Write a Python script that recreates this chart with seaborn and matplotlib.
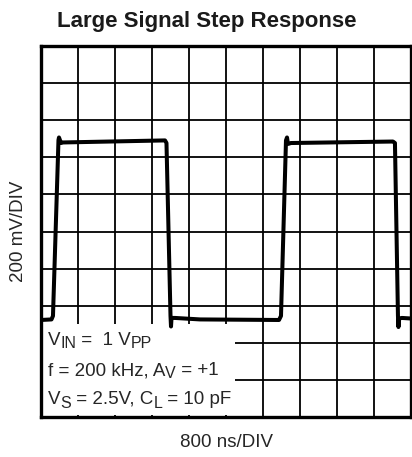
import matplotlib
matplotlib.use("Agg")
import matplotlib.pyplot as plt
from matplotlib.patches import Rectangle
from matplotlib.transforms import IdentityTransform
import numpy as np
import pandas as pd
import seaborn as sns

# Oscilloscope trace: time in ns, output voltage in mV (screen centre = 0 mV)
time_ns = [0, 227, 259, 378, 389, 432, 476, 2681, 2713, 2800, 2811, 2822, 2897,
           3438, 5146, 5189, 5297, 5319, 5340, 5405, 7610, 7653, 7718, 7729,
           7740, 7805, 8000]
vout_mv = [-477, -474, -455, 493, 507, 477, 480, 491, 477, -455, -512, -466, -466,
           -474, -477, -455, 491, 507, 472, 477, 485, 477, -455, -515,
           -469, -466, -469]

NS_PER_DIV = 800
MV_PER_DIV = 200
N_DIV = 10

title = "Large Signal Step Response"
x_label = "800 ns/DIV"
y_label = "200 mV/DIV"
# Test conditions: each line is a list of (text, is_subscript) pieces
conditions = [
    [("V", False), ("IN", True), (" =  1 V", False), ("PP", True)],
    [("f = 200 kHz, A", False), ("V", True), (" = +1", False)],
    [("V", False), ("S", True), (" = 2.5V, C", False), ("L", True), (" = 10 pF", False)],
]

sns.set_style("white")
plt.rcParams["font.family"] = ["Liberation Sans", "DejaVu Sans"]

df = pd.DataFrame({"t": time_ns, "v": vout_mv})

fig = plt.figure(figsize=(4.12, 4.57), dpi=100)
ax = fig.add_axes([41 / 412, 1 - 417 / 457, 370 / 412, 371 / 457])

sns.lineplot(data=df, x="t", y="v", ax=ax, color="black", linewidth=2.9,
             sort=False, zorder=4, solid_joinstyle="round", solid_capstyle="butt")

ax.set_xlim(0, N_DIV * NS_PER_DIV)
ax.set_ylim(-N_DIV / 2 * MV_PER_DIV, N_DIV / 2 * MV_PER_DIV)
ax.set_xticks(np.arange(0, N_DIV * NS_PER_DIV + 1, NS_PER_DIV))
ax.set_yticks(np.arange(-1000, 1001, MV_PER_DIV))
ax.tick_params(length=0, labelbottom=False, labelleft=False)
ax.set_axisbelow(True)
ax.grid(True, color="black", linewidth=1.3)
for sp in ax.spines.values():
    sp.set_visible(True)
    sp.set_color("black")
    sp.set_linewidth(2.4)

ax.set_xlabel(x_label, fontsize=13.5, labelpad=12)
ax.set_ylabel(y_label, fontsize=13.5, labelpad=10)

# White panel with the test conditions
ax.add_patch(Rectangle((0.006, 0.006), 0.518, 0.245, transform=ax.transAxes,
                       facecolor="white", edgecolor="none", zorder=1.5))

renderer = fig.canvas.get_renderer()
H = 457
baselines = [345, 375, 404]
for pieces, base in zip(conditions, baselines):
    x = 48.0
    for txt, sub in pieces:
        size = 11.5 if sub else 13.5
        y = (H - base) - (3.5 if sub else 0)
        t = fig.text(x, y, txt, transform=IdentityTransform(), fontsize=size,
                     ha="left", va="baseline", zorder=5)
        x += t.get_window_extent(renderer).width

fig.text(0.503, 1 - 21 / 457, title, fontsize=16, fontweight="bold",
         color="#1a1a1a", ha="center", va="center")

fig.savefig("out.png", dpi=100)
